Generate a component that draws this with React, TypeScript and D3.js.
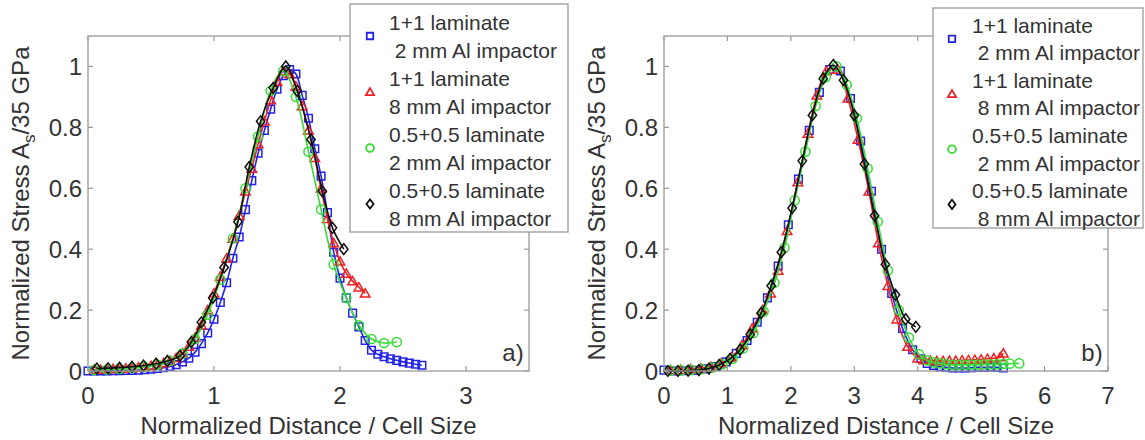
import React from "react";
import * as d3 from "d3";

// ---------- data ----------
const aXTicks = [0, 1, 2, 3];
const bXTicks = [0, 1, 2, 3, 4, 5, 6, 7];
const yTicks = [0, 0.2, 0.4, 0.6, 0.8, 1];
const yTickLabels = ["0", "0.2", "0.4", "0.6", "0.8", "1"];

const legendA = [
  ["1+1 laminate", " 2 mm Al impactor"],
  ["1+1 laminate", "8 mm Al impactor"],
  ["0.5+0.5 laminate", "2 mm Al impactor"],
  ["0.5+0.5 laminate", "8 mm Al impactor"],
];
const legendB = [
  ["1+1 laminate", " 2 mm Al impactor"],
  ["1+1 laminate", " 8 mm Al impactor"],
  ["0.5+0.5 laminate", " 2 mm Al impactor"],
  ["0.5+0.5 laminate", " 8 mm Al impactor"],
];

// panel a) 1+1 laminate, 2 mm impactor
const aBlueX = [0.00,0.05,0.10,0.15,0.20,0.25,0.30,0.35,0.40,0.45,0.50,0.55,0.60,0.65,0.70,0.75,0.80,0.85,0.90,0.95,1.00,1.05,1.10,1.15,1.20,1.25,1.30,1.35,1.40,1.45,1.50,1.55,1.60,1.65,1.70,1.75,1.80,1.85,1.90,1.95,2.00,2.05,2.10,2.15,2.20,2.25,2.30,2.35,2.40,2.45,2.50,2.55,2.60,2.65];
const aBlueY = [0.000,0.000,0.000,0.000,0.001,0.001,0.002,0.002,0.003,0.004,0.006,0.008,0.011,0.015,0.021,0.030,0.042,0.062,0.090,0.125,0.170,0.225,0.290,0.370,0.440,0.530,0.625,0.715,0.790,0.860,0.925,0.970,0.990,0.975,0.905,0.830,0.730,0.640,0.520,0.390,0.305,0.240,0.190,0.145,0.100,0.068,0.055,0.047,0.040,0.035,0.030,0.026,0.022,0.019];
// panel a) 1+1 laminate, 8 mm impactor
const aRedX = [0.05,0.10,0.15,0.20,0.25,0.30,0.35,0.40,0.45,0.50,0.55,0.60,0.65,0.70,0.75,0.80,0.85,0.90,0.95,1.00,1.05,1.10,1.15,1.20,1.25,1.30,1.35,1.40,1.45,1.50,1.55,1.60,1.65,1.70,1.75,1.80,1.85,1.90,1.95,2.00,2.05,2.10,2.15,2.20];
const aRedY = [0.005,0.005,0.006,0.007,0.008,0.009,0.010,0.012,0.014,0.017,0.021,0.026,0.033,0.043,0.058,0.080,0.110,0.150,0.200,0.255,0.310,0.370,0.435,0.510,0.590,0.665,0.745,0.820,0.890,0.950,0.985,0.975,0.935,0.870,0.790,0.700,0.600,0.500,0.420,0.360,0.320,0.295,0.275,0.255];
// panel a) 0.5+0.5 laminate, 2 mm impactor
const aGreenX = [0.05,0.15,0.25,0.35,0.45,0.55,0.65,0.75,0.85,0.95,1.05,1.15,1.25,1.35,1.45,1.55,1.65,1.75,1.85,1.95,2.05,2.15,2.25,2.35,2.45];
const aGreenY = [0.003,0.005,0.007,0.010,0.014,0.021,0.033,0.057,0.105,0.185,0.300,0.435,0.600,0.770,0.920,0.985,0.900,0.720,0.530,0.350,0.240,0.150,0.105,0.092,0.095];
// panel a) 0.5+0.5 laminate, 8 mm impactor
const aBlackX = [0.07,0.16,0.25,0.35,0.44,0.54,0.63,0.73,0.82,0.90,0.99,1.08,1.19,1.28,1.37,1.47,1.57,1.66,1.77,1.86,1.94,2.03];
const aBlackY = [0.008,0.009,0.011,0.014,0.018,0.024,0.033,0.050,0.095,0.160,0.240,0.340,0.490,0.670,0.820,0.930,1.000,0.920,0.760,0.590,0.470,0.400];

// panel b)
const bBlueX = [0.00,0.16,0.33,0.49,0.65,0.82,0.98,1.14,1.31,1.47,1.63,1.80,1.96,2.12,2.29,2.45,2.61,2.78,2.94,3.10,3.27,3.43,3.59,3.76,3.92,4.05,4.15,4.25,4.35,4.45,4.55,4.65,4.75,4.85,4.95,5.05,5.15,5.25,5.35];
const bBlueY = [0.003,0.000,0.001,0.002,0.007,0.015,0.030,0.058,0.100,0.160,0.240,0.345,0.480,0.630,0.790,0.915,0.990,0.985,0.895,0.755,0.590,0.400,0.255,0.140,0.070,0.040,0.025,0.018,0.014,0.012,0.010,0.010,0.010,0.011,0.012,0.012,0.013,0.012,0.010];
const bRedX = [0.10,0.26,0.42,0.58,0.74,0.90,1.06,1.23,1.39,1.55,1.68,1.80,1.94,2.11,2.27,2.41,2.56,2.74,2.90,3.06,3.23,3.38,3.53,3.67,3.84,4.00,4.10,4.20,4.30,4.40,4.50,4.60,4.70,4.80,4.90,5.00,5.10,5.20,5.30,5.35];
const bRedY = [0.003,0.004,0.006,0.009,0.014,0.025,0.045,0.085,0.140,0.200,0.255,0.330,0.460,0.620,0.780,0.905,0.985,0.990,0.895,0.760,0.590,0.420,0.280,0.170,0.080,0.042,0.036,0.034,0.033,0.033,0.034,0.034,0.035,0.036,0.037,0.038,0.040,0.042,0.046,0.058];
const bGreenX = [0.10,0.27,0.43,0.59,0.76,0.92,1.08,1.25,1.41,1.57,1.74,1.90,2.06,2.23,2.39,2.55,2.72,2.88,3.04,3.21,3.37,3.53,3.70,3.86,4.02,4.15,4.25,4.35,4.45,4.55,4.65,4.75,4.85,4.95,5.05,5.15,5.25,5.35,5.45,5.60];
const bGreenY = [0.002,0.002,0.003,0.006,0.011,0.022,0.040,0.075,0.125,0.195,0.290,0.405,0.560,0.720,0.870,0.965,1.000,0.940,0.830,0.665,0.490,0.330,0.200,0.110,0.055,0.035,0.028,0.025,0.022,0.020,0.020,0.020,0.021,0.021,0.022,0.022,0.022,0.023,0.024,0.025];
const bBlackX = [0.06,0.22,0.38,0.55,0.71,0.87,1.04,1.20,1.36,1.53,1.69,1.85,2.02,2.18,2.34,2.51,2.67,2.83,3.00,3.16,3.32,3.49,3.65,3.81,3.97];
const bBlackY = [0.000,0.000,0.001,0.003,0.008,0.020,0.040,0.070,0.120,0.190,0.280,0.390,0.535,0.690,0.840,0.960,1.005,0.955,0.840,0.680,0.510,0.350,0.250,0.170,0.145];

// ---------- styles / layout ----------
const FONT = "'Liberation Sans', Arial, Helvetica, sans-serif";
const TEXT = "#333333";
const FRAME = "#9a9a9a";
const COLORS = ["#2323e8", "#ee2222", "#35dd35", "#111111"];
const SHAPES = ["square", "triangle", "circle", "diamond"];

const TOP = 36;
const BOTTOM = 371;

function markerPath(shape: string, s: number) {
  if (shape === "square") {
    const h = 3.8 * s;
    return `M${-h},${-h}H${h}V${h}H${-h}Z`;
  }
  if (shape === "triangle") {
    const w = 4.8 * s, h = 4.6 * s;
    return `M0,${-h}L${w},${h * 0.8}L${-w},${h * 0.8}Z`;
  }
  if (shape === "diamond") {
    const w = 4.2 * s, h = 5.4 * s;
    return `M0,${-h}L${w},0L0,${h}L${-w},0Z`;
  }
  const r = 4.6 * s;
  return `M${r},0A${r},${r} 0 1,1 ${-r},0A${r},${r} 0 1,1 ${r},0Z`;
}

type Series = { xs: number[]; ys: number[] };

function Panel(props: {
  left: number; right: number; xMax: number; xTicks: number[];
  series: Series[]; label: string; legend: string[][];
  legBox: { x0: number; x1: number; y0: number; y1: number; mx: number; tx: number; ly0: number; dy: number };
}) {
  const { left, right, xMax, xTicks, series, label, legend, legBox } = props;
  const x = d3.scaleLinear().domain([0, xMax]).range([left, right]);
  const y = d3.scaleLinear().domain([0, 1.1]).range([BOTTOM, TOP]);
  const line = d3.line<[number, number]>()
    .x((d) => x(d[0]))
    .y((d) => y(d[1]))
    .curve(d3.curveCatmullRom.alpha(0.5));
  const tl = 5;
  const cx = (left + right) / 2;
  const cy = (TOP + BOTTOM) / 2;
  return (
    <g>
      {/* series */}
      {series.map((s, i) => {
        const pts: [number, number][] = s.xs.map((v, k) => [v, s.ys[k]]);
        return (
          <g key={i}>
            <path d={line(pts) || ""} fill="none" stroke={COLORS[i]} strokeWidth={1.6} />
            {pts.map((p, k) => (
              <path key={k} d={markerPath(SHAPES[i], 1)} transform={`translate(${x(p[0])},${y(p[1])})`}
                fill="none" stroke={COLORS[i]} strokeWidth={1.5} />
            ))}
          </g>
        );
      })}
      {/* frame */}
      <rect x={left} y={TOP} width={right - left} height={BOTTOM - TOP} fill="none" stroke={FRAME} strokeWidth={1.3} />
      {xTicks.map((t) => (
        <g key={"xt" + t}>
          <line x1={x(t)} x2={x(t)} y1={BOTTOM} y2={BOTTOM - tl} stroke={FRAME} strokeWidth={1.2} />
          <line x1={x(t)} x2={x(t)} y1={TOP} y2={TOP + tl} stroke={FRAME} strokeWidth={1.2} />
          <text x={x(t)} y={395} textAnchor="middle" dominantBaseline="central" fontSize={24} fill={TEXT} fontFamily={FONT}>{t}</text>
        </g>
      ))}
      {yTicks.map((t, i) => (
        <g key={"yt" + t}>
          <line x1={left} x2={left + tl} y1={y(t)} y2={y(t)} stroke={FRAME} strokeWidth={1.2} />
          <line x1={right} x2={right - tl} y1={y(t)} y2={y(t)} stroke={FRAME} strokeWidth={1.2} />
          <text x={left - 6} y={y(t)} textAnchor="end" dominantBaseline="central" fontSize={24} fill={TEXT} fontFamily={FONT}>{yTickLabels[i]}</text>
        </g>
      ))}
      <text x={cx} y={425} textAnchor="middle" dominantBaseline="central" fontSize={24} fill={TEXT} fontFamily={FONT}>
        Normalized Distance / Cell Size
      </text>
      <text transform={`translate(${left - 59},${cy}) rotate(-90)`} textAnchor="middle" fontSize={24} fill={TEXT} fontFamily={FONT}>
        <tspan>Normalized Stress A</tspan>
        <tspan dy={6} fontSize={17}>s</tspan>
        <tspan dy={-6}>/35 GPa</tspan>
      </text>
      <text x={right - 16} y={352} textAnchor="middle" dominantBaseline="central" fontSize={24} fill={TEXT} fontFamily={FONT}>{label}</text>
      {/* legend */}
      <rect x={legBox.x0} y={legBox.y0} width={legBox.x1 - legBox.x0} height={legBox.y1 - legBox.y0} fill="#ffffff" stroke={FRAME} strokeWidth={1.3} />
      {legend.map((lines, i) => {
        const yA = legBox.ly0 + legBox.dy * 2 * i;
        const yB = yA + legBox.dy;
        return (
          <g key={"lg" + i}>
            <path d={markerPath(SHAPES[i], 0.85)} transform={`translate(${legBox.mx},${(yA + yB) / 2})`} fill="none" stroke={COLORS[i]} strokeWidth={1.8} />
            <text x={legBox.tx} y={yA} dominantBaseline="central" fontSize={21} fill={TEXT} fontFamily={FONT} style={{ whiteSpace: "pre" }}>{lines[0]}</text>
            <text x={legBox.tx} y={yB} dominantBaseline="central" fontSize={21} fill={TEXT} fontFamily={FONT} style={{ whiteSpace: "pre" }}>{lines[1]}</text>
          </g>
        );
      })}
    </g>
  );
}

export default function App() {
  const seriesA: Series[] = [
    { xs: aBlueX, ys: aBlueY },
    { xs: aRedX, ys: aRedY },
    { xs: aGreenX, ys: aGreenY },
    { xs: aBlackX, ys: aBlackY },
  ];
  const seriesB: Series[] = [
    { xs: bBlueX, ys: bBlueY },
    { xs: bRedX, ys: bRedY },
    { xs: bGreenX, ys: bGreenY },
    { xs: bBlackX, ys: bBlackY },
  ];
  return (
    <svg width={1145} height={440} style={{ position: "absolute", left: 0, top: 0, background: "#ffffff" }}>
      <rect width={1145} height={440} fill="#ffffff" />
      <Panel left={88} right={529} xMax={3.5} xTicks={aXTicks} series={seriesA} label="a)" legend={legendA}
        legBox={{ x0: 350, x1: 568, y0: 4, y1: 232, mx: 370, tx: 389, ly0: 22, dy: 28 }} />
      <Panel left={664} right={1108} xMax={7} xTicks={bXTicks} series={seriesB} label="b)" legend={legendB}
        legBox={{ x0: 933, x1: 1143, y0: 8, y1: 228, mx: 952, tx: 972, ly0: 25, dy: 27.6 }} />
    </svg>
  );
}
